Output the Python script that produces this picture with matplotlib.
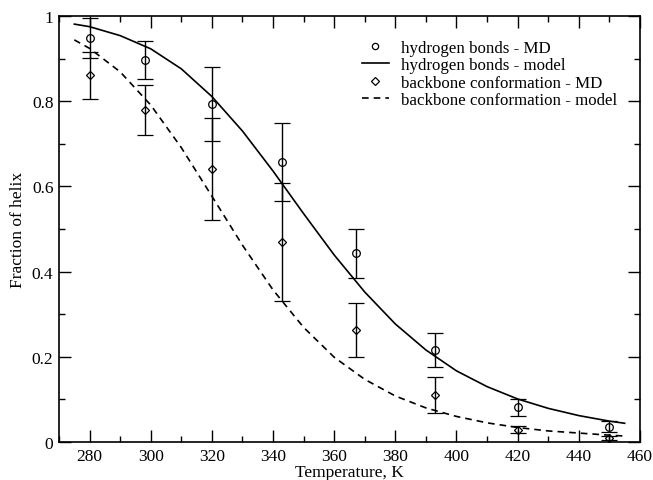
import matplotlib
matplotlib.use('Agg')
import matplotlib.pyplot as plt
from matplotlib.lines import Line2D
from matplotlib.ticker import MultipleLocator, FormatStrFormatter

plt.rcParams['font.family'] = ['Liberation Serif', 'DejaVu Serif']

# MD simulation points
temp_md = [280, 298, 320, 343, 367, 393, 420, 450]
hb_md = [0.948, 0.897, 0.793, 0.657, 0.443, 0.216, 0.082, 0.036]
hb_err = [0.047, 0.045, 0.087, 0.092, 0.058, 0.040, 0.020, 0.013]
bb_md = [0.861, 0.779, 0.641, 0.469, 0.263, 0.111, 0.029, 0.009]
bb_err = [0.055, 0.058, 0.119, 0.139, 0.063, 0.042, 0.009, 0.005]

# model curves
temp_model = [275, 280, 290, 300, 310, 320, 330, 340, 350, 360, 370,
              380, 390, 400, 410, 420, 430, 440, 450, 455]
hb_model = [0.981, 0.975, 0.954, 0.923, 0.876, 0.811, 0.730, 0.636, 0.536, 0.439,
            0.352, 0.277, 0.216, 0.167, 0.130, 0.101, 0.079, 0.062, 0.049, 0.044]
bb_model = [0.944, 0.924, 0.869, 0.791, 0.691, 0.577, 0.462, 0.357, 0.269, 0.199,
            0.147, 0.108, 0.080, 0.060, 0.045, 0.034, 0.026, 0.021, 0.016, 0.014]

fig = plt.figure(figsize=(6.53, 4.81), dpi=100)
ax = fig.add_axes([0.0904, 0.079, 0.8896, 0.8856])

ax.errorbar(temp_md, hb_md, yerr=hb_err, fmt='o', mfc='none', mec='black',
            ms=5.5, mew=0.9, ecolor='black', elinewidth=1, capsize=6, capthick=1)
ax.plot(temp_model, hb_model, '-', color='black', lw=1.2)
ax.errorbar(temp_md, bb_md, yerr=bb_err, fmt='D', mfc='none', mec='black',
            ms=4.2, mew=0.9, ecolor='black', elinewidth=1, capsize=6, capthick=1)
ax.plot(temp_model, bb_model, '--', color='black', lw=1.2, dashes=(4, 3))

ax.set_xlim(270, 460)
ax.set_ylim(0, 1)
ax.xaxis.set_major_locator(MultipleLocator(20))
ax.xaxis.set_minor_locator(MultipleLocator(10))
ax.yaxis.set_major_locator(MultipleLocator(0.2))
ax.yaxis.set_minor_locator(MultipleLocator(0.1))
ax.yaxis.set_major_formatter(FormatStrFormatter('%g'))
ax.tick_params(which='both', direction='in', top=True, right=True, labelsize=12.5, width=1)
ax.tick_params(which='major', length=8.5, pad=4)
ax.tick_params(which='minor', length=4.3)
for s in ax.spines.values():
    s.set_linewidth(1.2)

ax.set_xlabel('Temperature, K', fontsize=12.5, labelpad=0)
ax.set_ylabel('Fraction of helix', fontsize=12.5, labelpad=4)

handles = [
    Line2D([], [], ls='none', marker='o', mfc='none', mec='black', ms=4.5, mew=0.9),
    Line2D([], [], ls='-', color='black', lw=1.2),
    Line2D([], [], ls='none', marker='D', mfc='none', mec='black', ms=3.8, mew=0.9),
    Line2D([], [], ls='--', color='black', lw=1.2, dashes=(4, 3)),
]
labels = ['hydrogen bonds - MD', 'hydrogen bonds - model',
          'backbone conformation - MD', 'backbone conformation - model']
ax.legend(handles, labels, loc='upper right', bbox_to_anchor=(0.96, 0.944),
          frameon=False, fontsize=12.2, handlelength=1.6, handletextpad=0.7,
          labelspacing=0.08, borderaxespad=0, borderpad=0)

fig.savefig('out.png', dpi=100)
